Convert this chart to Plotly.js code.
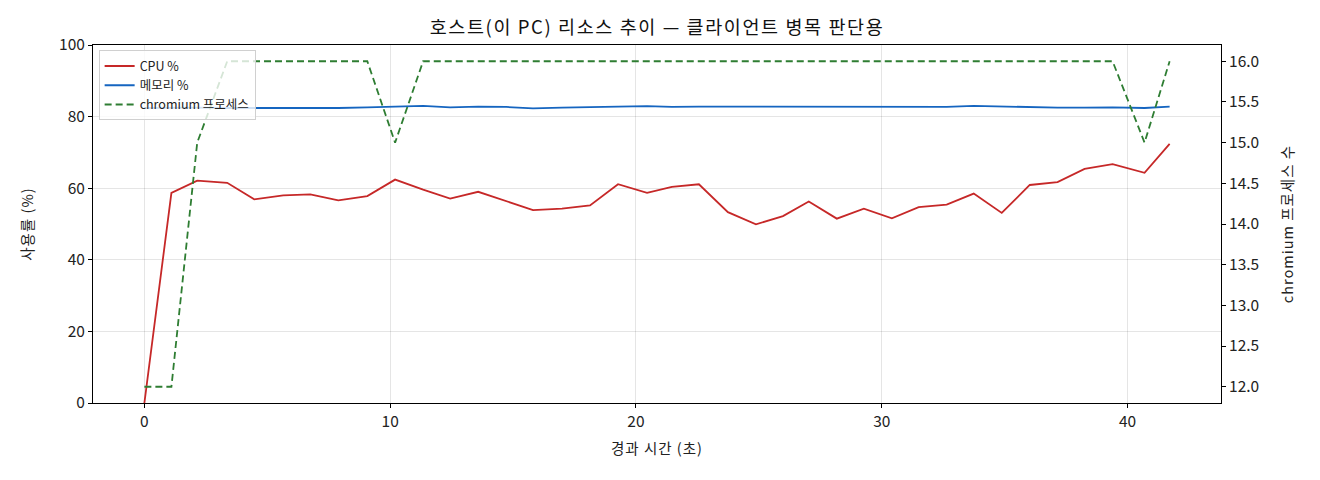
<!DOCTYPE html>
<html>
<head>
<meta charset="utf-8">
<script src="https://cdn.plot.ly/plotly-3.0.1.min.js"></script>
<style>
  html, body { margin: 0; padding: 0; background: #fff; }
  #chart { width: 1320px; height: 480px; }
  /* reference font is a wide gothic; widen titles a little */
  #chart .gtitle { letter-spacing: 1.6px; }
  #chart .xtitle, #chart .ytitle, #chart .y2title { letter-spacing: 1px; }
</style>
</head>
<body>
<div id="chart"></div>
<script>
// 경과 시간 (초)
let elapsed_sec = [
  0, 1.10, 2.15, 3.37, 4.47, 5.65, 6.75, 7.89, 9.07, 10.20,
  11.34, 12.44, 13.58, 14.72, 15.81, 16.99, 18.13, 19.27, 20.45, 21.46,
  22.56, 23.74, 24.88, 25.98, 27.03, 28.17, 29.27, 30.41, 31.50, 32.64,
  33.74, 34.88, 36.02, 37.15, 38.25, 39.39, 40.69, 41.71
]
let cpu_pct = [
  0, 58.7, 62.1, 61.5, 56.9, 58.0, 58.3, 56.6, 57.8, 62.4,
  59.6, 57.1, 59.0, 56.5, 53.9, 54.3, 55.2, 61.1, 58.7, 60.4,
  61.1, 53.3, 49.9, 52.2, 56.3, 51.5, 54.3, 51.6, 54.7, 55.4,
  58.5, 53.1, 60.9, 61.7, 65.4, 66.7, 64.3, 72.4
]
let mem_pct = [
  82.4, 82.5, 82.5, 82.4, 82.4, 82.5, 82.3, 82.4, 82.6, 82.9,
  83.0, 82.6, 82.8, 82.7, 82.3, 82.5, 82.7, 82.8, 82.9, 82.7,
  82.8, 82.8, 82.7, 82.8, 82.8, 82.8, 82.7, 82.8, 82.8, 82.7,
  83.0, 82.8, 82.6, 82.5, 82.5, 82.6, 82.4, 82.8
]
let chromium_count = [
  12, 12, 15, 16, 16, 16, 16, 16, 16, 15,
  16, 16, 16, 16, 16, 16, 16, 16, 16, 16,
  16, 16, 16, 16, 16, 16, 16, 16, 16, 16,
  16, 16, 16, 16, 16, 16, 15, 16
]
let right_ticks = [12, 12.5, 13, 13.5, 14, 14.5, 15, 15.5, 16]
let right_tick_labels = ["12.0", "12.5", "13.0", "13.5", "14.0", "14.5", "15.0", "15.5", "16.0"]

let font_family = "'Noto Sans CJK KR', 'Noto Sans', sans-serif"

let cpu_line = {
  x: elapsed_sec,
  y: cpu_pct,
  name: "CPU %",
  type: "scatter",
  mode: "lines",
  line: { color: "#c62828", width: 1.8 },
}

let mem_line = {
  x: elapsed_sec,
  y: mem_pct,
  name: "메모리 %",
  type: "scatter",
  mode: "lines",
  line: { color: "#1565c0", width: 1.8 },
}

let chromium_line = {
  x: elapsed_sec,
  y: chromium_count,
  name: "chromium 프로세스",
  type: "scatter",
  mode: "lines",
  yaxis: "y2",
  line: { color: "#2e7d32", width: 1.8, dash: "7px,4px" },
}

let data = [cpu_line, mem_line, chromium_line]

let axis_common = {
  zeroline: false,
  showline: true,
  linecolor: "#000",
  linewidth: 1,
  ticks: "outside",
  ticklen: 4,
  tickcolor: "#000",
  tickfont: { size: 15.5 },
}

let layout = {
  width: 1320,
  height: 480,
  margin: { l: 93, r: 99, t: 45, b: 77 },
  paper_bgcolor: "#fff",
  plot_bgcolor: "#fff",
  font: { family: font_family, size: 14, color: "#222" },
  title: {
    text: "호스트(이 PC) 리소스 추이 — 클라이언트 병목 판단용",
    font: { size: 18.5, color: "#111" },
    x: 0.5,
    xref: "paper",
    y: 0.942,
    yref: "container",
    yanchor: "middle",
  },
  xaxis: {
    ...axis_common,
    range: [-2.09, 43.8],
    tickvals: [0, 10, 20, 30, 40],
    showgrid: true,
    gridcolor: "rgba(0,0,0,0.1)",
    mirror: true,
    title: { text: "경과 시간 (초)", font: { size: 14.5 }, standoff: 14 },
  },
  yaxis: {
    ...axis_common,
    range: [0, 100],
    tickvals: [0, 20, 40, 60, 80, 100],
    showgrid: true,
    gridcolor: "rgba(0,0,0,0.1)",
    title: { text: "사용률 (%)", font: { size: 14.5 }, standoff: 22 },
  },
  yaxis2: {
    ...axis_common,
    overlaying: "y",
    side: "right",
    range: [11.8, 16.2],
    tickvals: right_ticks,
    ticktext: right_tick_labels,
    showgrid: false,
    title: { text: "chromium 프로세스 수", font: { size: 14.5 }, standoff: 24 },
  },
  showlegend: true,
  legend: {
    x: 0.005,
    y: 0.985,
    xanchor: "left",
    yanchor: "top",
    bgcolor: "rgba(255,255,255,0.8)",
    bordercolor: "#d0d0d0",
    borderwidth: 1,
    font: { size: 12.5 },
    tracegroupgap: 0,
  },
}

Plotly.newPlot("chart", data, layout, {
  displaylogo: false,
  displayModeBar: false,
  responsive: false,
})
</script>
</body>
</html>
